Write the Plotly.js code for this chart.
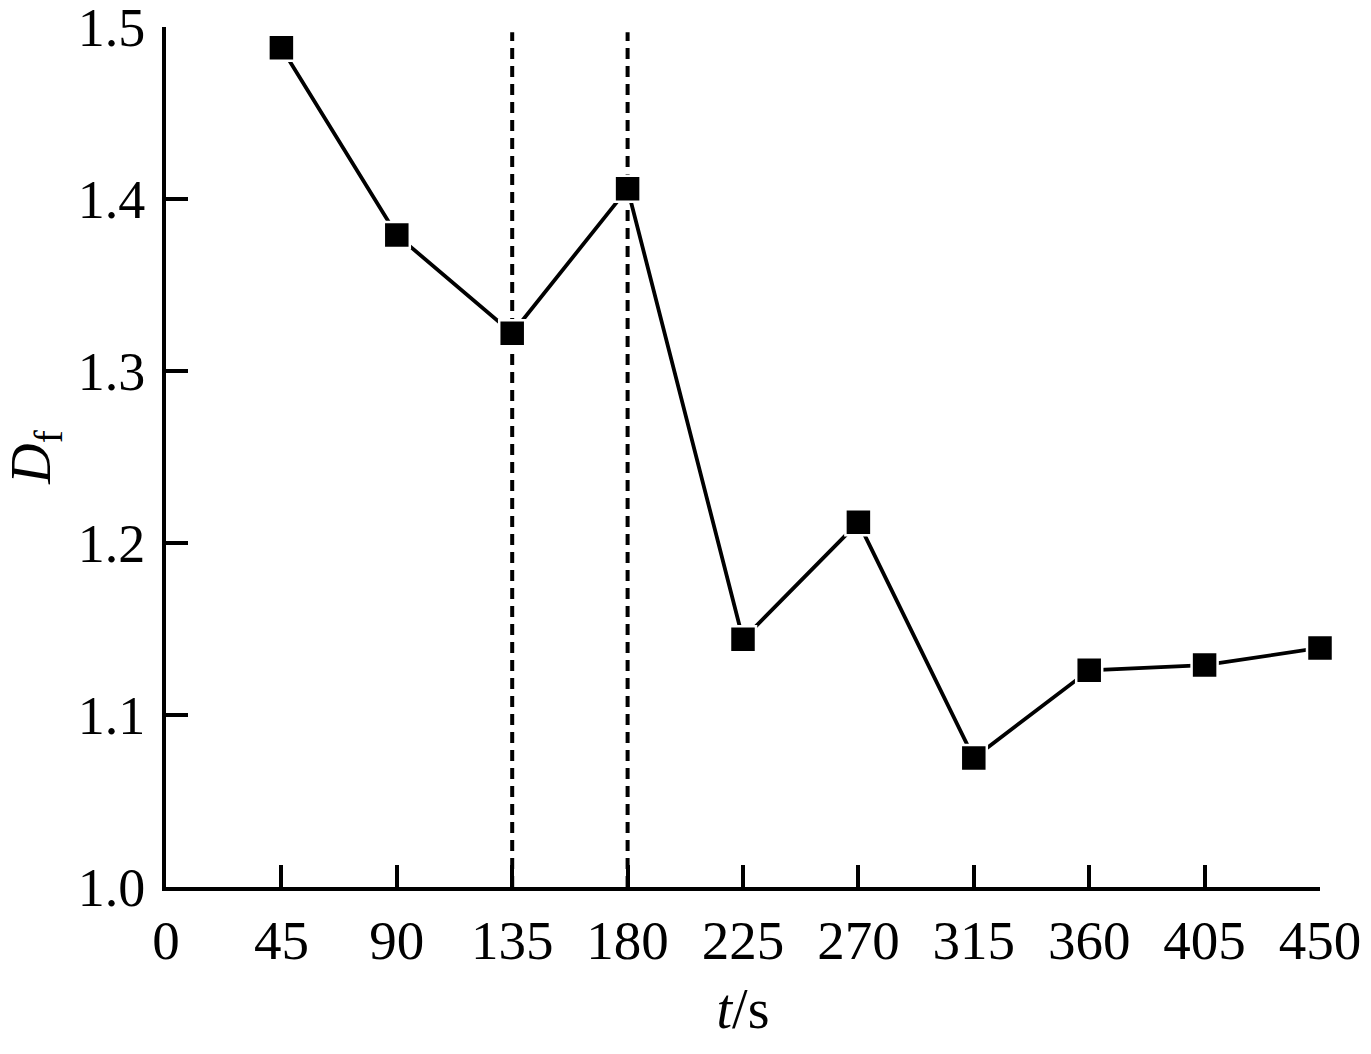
<!DOCTYPE html>
<html>
<head>
<meta charset="utf-8">
<script src="https://cdn.plot.ly/plotly-3.0.1.min.js"></script>
<style>html,body{margin:0;padding:0;background:#fff;}#chart{width:1371px;height:1054px;}</style>
</head>
<body>
<div id="chart"></div>
<script>
const timeS = [45, 90, 135, 180, 225, 270, 315, 360, 405, 450];
const dfValues = [1.488, 1.379, 1.322, 1.406, 1.144, 1.212, 1.075, 1.126, 1.129, 1.139];
const xTicks = [0, 45, 90, 135, 180, 225, 270, 315, 360, 405, 450];
const yTicks = [1.0, 1.1, 1.2, 1.3, 1.4, 1.5];
const yTickLabels = ["1.0", "1.1", "1.2", "1.3", "1.4", "1.5"];
const dividerTimes = [135, 180];

const font = "Liberation Serif, Times New Roman, serif";

const shapes = dividerTimes.map(t => ({
  type: "line", xref: "x", yref: "y",
  x0: t, x1: t, y0: 1.0, y1: 1.497,
  line: {color: "#000", width: 4, dash: "11px,7px"},
  layer: "below"
}));

const trace = {
  x: timeS, y: dfValues, type: "scatter", mode: "lines+markers",
  line: {color: "#000", width: 3.8},
  marker: {symbol: "square", size: 26, color: "#000", line: {color: "#fff", width: 2.5}},
  cliponaxis: false, showlegend: false
};

const layout = {
  width: 1371, height: 1054,
  margin: {l: 166, r: 51, t: 27, b: 167},
  paper_bgcolor: "#fff", plot_bgcolor: "#fff",
  font: {family: font, color: "#000", size: 54},
  xaxis: {
    range: [0, 450], tickvals: xTicks, ticktext: xTicks.map(String),
    ticks: "inside", ticklen: 22, tickwidth: 4, tickcolor: "#000",
    showline: true, linewidth: 4, linecolor: "#000",
    showgrid: false, zeroline: false, mirror: false,
    tickfont: {family: font, size: 55, color: "#000"},
    ticklabelstandoff: 2, ticklabeloverflow: "allow",
    title: {text: "<i>t</i>/s", font: {family: font, size: 56, color: "#000"}, standoff: 20}
  },
  yaxis: {
    range: [1.0, 1.5], tickvals: yTicks, ticktext: yTickLabels,
    ticks: "inside", ticklen: 22, tickwidth: 4, tickcolor: "#000",
    showline: true, linewidth: 4, linecolor: "#000",
    showgrid: false, zeroline: false, mirror: false,
    tickfont: {family: font, size: 54, color: "#000"},
    ticklabelstandoff: 6, ticklabeloverflow: "allow",
    title: {text: "<i>D</i><sub>f</sub>", font: {family: font, size: 56, color: "#000"}, standoff: 14}
  },
  shapes: shapes
};

Plotly.newPlot("chart", [trace], layout, {displayModeBar: false, staticPlot: true});
</script>
</body>
</html>
